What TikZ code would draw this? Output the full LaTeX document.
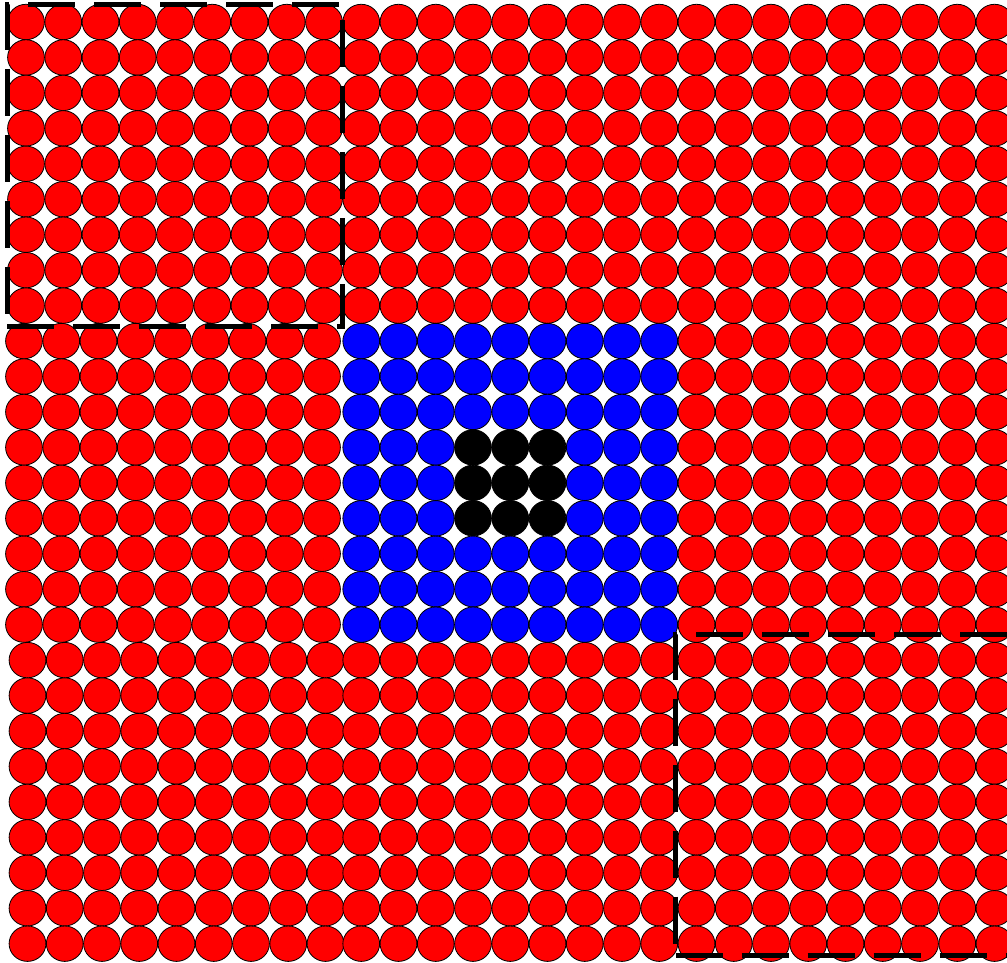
\documentclass[tikz,border=0pt]{standalone}
\begin{document}
\begin{tikzpicture}[x=1pt,y=-1pt,
  ball/.style={draw=black, line width=0.8pt},
  frame/.style={draw=black, line width=5pt, dash pattern=on 47pt off 19pt}]
\useasboundingbox (0,0) rectangle (1007,963);
\foreach \j in {0,...,26}{
  \foreach \i in {0,...,26}{
    \pgfmathtruncatemacro{\bi}{floor(\i/9)}
    \pgfmathtruncatemacro{\bj}{floor(\j/9)}
    \def\bcol{red}
    \ifnum\bi=1 \ifnum\bj=1 \def\bcol{blue}\fi\fi
    \ifnum\i>11 \ifnum\i<15 \ifnum\j>11 \ifnum\j<15 \def\bcol{black}\fi\fi\fi\fi
    \def\offx{0}
    \ifnum\bi=0 \ifnum\bj=1 \def\offx{-2}\fi \ifnum\bj=2 \def\offx{1.5}\fi\fi
    \path[ball, fill=\bcol] (26+37.25*\i+\offx, 22+35.45*\j) ellipse [x radius=18.4pt, y radius=17.7pt];
  }
}
\draw[frame] (7,326) -- (342,326) -- (342,4.5) -- (7,4.5) -- cycle;
\draw[frame] (675.5,955) -- (1010.75,955) -- (1010.75,634) -- (675.5,634) -- cycle;
\end{tikzpicture}
\end{document}
